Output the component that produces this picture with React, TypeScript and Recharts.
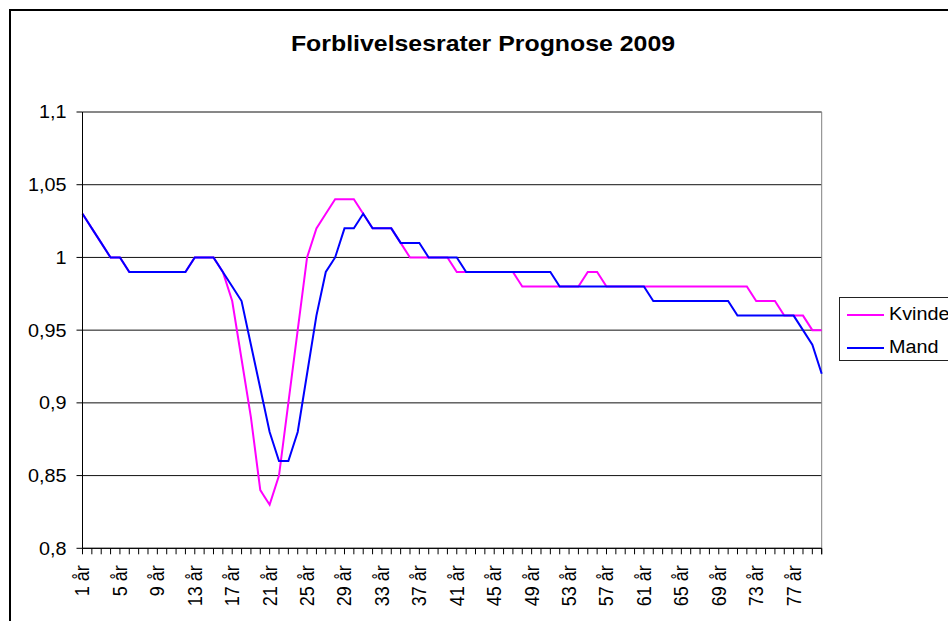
import React from "react";
import { LineChart, Line, XAxis, YAxis, CartesianGrid, Legend } from "recharts";

const categories: string[] = Array.from({ length: 80 }, (_, i) => `${i + 1} år`);

const kvinde: number[] = [
  1.03, 1.02, 1.01, 1.0, 1.0, 0.99, 0.99, 0.99, 0.99, 0.99,
  0.99, 0.99, 1.0, 1.0, 1.0, 0.99, 0.97, 0.93, 0.89, 0.84,
  0.83, 0.85, 0.9, 0.95, 1.0, 1.02, 1.03, 1.04, 1.04, 1.04,
  1.03, 1.02, 1.02, 1.02, 1.01, 1.0, 1.0, 1.0, 1.0, 1.0,
  0.99, 0.99, 0.99, 0.99, 0.99, 0.99, 0.99, 0.98, 0.98, 0.98,
  0.98, 0.98, 0.98, 0.98, 0.99, 0.99, 0.98, 0.98, 0.98, 0.98,
  0.98, 0.98, 0.98, 0.98, 0.98, 0.98, 0.98, 0.98, 0.98, 0.98,
  0.98, 0.98, 0.97, 0.97, 0.97, 0.96, 0.96, 0.96, 0.95, 0.95,
];

const mand: number[] = [
  1.03, 1.02, 1.01, 1.0, 1.0, 0.99, 0.99, 0.99, 0.99, 0.99,
  0.99, 0.99, 1.0, 1.0, 1.0, 0.99, 0.98, 0.97, 0.94, 0.91,
  0.88, 0.86, 0.86, 0.88, 0.92, 0.96, 0.99, 1.0, 1.02, 1.02,
  1.03, 1.02, 1.02, 1.02, 1.01, 1.01, 1.01, 1.0, 1.0, 1.0,
  1.0, 0.99, 0.99, 0.99, 0.99, 0.99, 0.99, 0.99, 0.99, 0.99,
  0.99, 0.98, 0.98, 0.98, 0.98, 0.98, 0.98, 0.98, 0.98, 0.98,
  0.98, 0.97, 0.97, 0.97, 0.97, 0.97, 0.97, 0.97, 0.97, 0.97,
  0.96, 0.96, 0.96, 0.96, 0.96, 0.96, 0.96, 0.95, 0.94, 0.92,
];

const xTickLabels: string[] = [
  "1 år", "5 år", "9 år", "13 år", "17 år", "21 år", "25 år", "29 år", "33 år", "37 år",
  "41 år", "45 år", "49 år", "53 år", "57 år", "61 år", "65 år", "69 år", "73 år", "77 år",
];

const yTicks: number[] = [0.8, 0.85, 0.9, 0.95, 1.0, 1.05, 1.1];

const seriesNames = { kvinde: "Kvinde", mand: "Mand" };
const title = "Forblivelsesrater Prognose 2009";

const data = categories.map((label, i) => ({
  label,
  Kvinde: kvinde[i],
  Mand: mand[i],
}));

const FONT = '"Liberation Sans", Arial, sans-serif';
const STRETCH = 1.1;
const TITLE_STRETCH = 1.13;

const fmt = (v: number) => String(Number(v.toFixed(2))).replace(".", ",");

const YTick = (props: any) => {
  const { x, y, payload } = props;
  return (
    <text
      transform={`translate(${x},${y}) scale(${STRETCH},1)`}
      x={0}
      y={0}
      dy="0.355em"
      textAnchor="end"
      fontFamily={FONT}
      fontSize={18}
      fill="#000"
    >
      {fmt(payload.value)}
    </text>
  );
};

const XTick = (props: any) => {
  const { x, y, payload } = props;
  const off = typeof payload.offset === "number" ? payload.offset : 0;
  const showLabel = xTickLabels.includes(payload.value);
  const isLast = payload.value === categories[categories.length - 1];
  return (
    <g>
      <line x1={x - off} x2={x - off} y1={y} y2={y + 6} stroke="#000" strokeWidth={1} />
      {isLast && <line x1={x + off} x2={x + off} y1={y} y2={y + 6} stroke="#000" strokeWidth={1} />}
      {showLabel && (
        <text
          transform={`translate(${x},${y + 17}) rotate(-90) scale(1,${STRETCH})`}
          x={0}
          y={0}
          dy="0.35em"
          textAnchor="end"
          fontFamily={FONT}
          fontSize={18}
          fill="#000"
        >
          {payload.value}
        </text>
      )}
    </g>
  );
};

const LegendContent = (props: any) => {
  const items = props.payload || [];
  return (
    <div
      style={{
        position: "relative",
        width: 130,
        height: 64,
        border: "1px solid #222",
        background: "#fff",
        boxSizing: "border-box",
        fontFamily: FONT,
      }}
    >
      {items.map((it: any, i: number) => {
        const lineY = i === 0 ? 17 : 50;
        const textTop = i === 0 ? 7 : 40;
        return (
          <React.Fragment key={it.value}>
            <div
              style={{
                position: "absolute",
                left: 7,
                top: lineY - 1,
                width: 37,
                height: 2,
                background: it.color,
              }}
            />
            <div
              style={{
                position: "absolute",
                left: 49,
                top: textTop,
                fontSize: 18,
                lineHeight: "18px",
                color: "#000",
                whiteSpace: "nowrap",
                transform: `scaleX(${STRETCH})`,
                transformOrigin: "left center",
              }}
            >
              {it.value}
            </div>
          </React.Fragment>
        );
      })}
    </div>
  );
};

export default function App() {
  return (
    <div
      style={{
        position: "fixed",
        left: 8,
        top: 8,
        width: 940,
        height: 613,
        overflow: "hidden",
        background: "#fff",
      }}
    >
      <div
        style={{
          position: "absolute",
          left: 1,
          top: 1,
          width: 980,
          height: 660,
          border: "2px solid #000",
          boxSizing: "border-box",
        }}
      />
      <div
        style={{
          position: "absolute",
          left: 0,
          top: 25,
          width: 950,
          textAlign: "center",
          fontFamily: FONT,
          fontWeight: "bold",
          fontSize: 22,
          lineHeight: "22px",
          color: "#000",
          transform: `scaleX(${TITLE_STRETCH})`,
          transformOrigin: "center",
          whiteSpace: "nowrap",
        }}
      >
        {title}
      </div>
      <div style={{ position: "absolute", left: 0, top: 0 }}>
        <LineChart
          width={960}
          height={640}
          data={data}
          margin={{ top: 104, left: 14.5, right: 146.3, bottom: 39.7 }}
        >
          <CartesianGrid horizontal={true} vertical={false} stroke="#111" strokeWidth={1} />
          <CartesianGrid
            horizontal={false}
            vertical={true}
            stroke="#808080"
            strokeWidth={1}
            verticalCoordinatesGenerator={({ offset }: any) => [offset.left + offset.width]}
          />
          <XAxis
            dataKey="label"
            type="category"
            interval={0}
            height={60}
            tickLine={false}
            tickSize={0}
            tickMargin={0}
            axisLine={{ stroke: "#000", strokeWidth: 1 }}
            tick={<XTick />}
          />
          <YAxis
            type="number"
            domain={[0.8, 1.1]}
            ticks={yTicks}
            interval={0}
            width={60}
            tickSize={6}
            tickMargin={10}
            tickLine={{ stroke: "#000" }}
            axisLine={{ stroke: "#000", strokeWidth: 1 }}
            tick={<YTick />}
            allowDataOverflow={true}
          />
          <Legend
            layout="vertical"
            align="center"
            verticalAlign="middle"
            content={<LegendContent />}
            wrapperStyle={{ left: 831, top: 289.3, width: 130, height: 64 }}
          />
          <Line
            type="linear"
            dataKey="Kvinde"
            name={seriesNames.kvinde}
            stroke="#FF00FF"
            strokeWidth={2}
            dot={false}
            isAnimationActive={false}
          />
          <Line
            type="linear"
            dataKey="Mand"
            name={seriesNames.mand}
            stroke="#0000FF"
            strokeWidth={2}
            dot={false}
            isAnimationActive={false}
          />
        </LineChart>
      </div>
    </div>
  );
}
